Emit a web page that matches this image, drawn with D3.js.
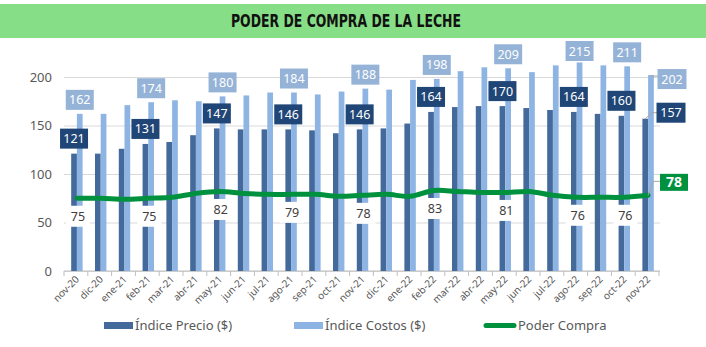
<!DOCTYPE html>
<html>
<head>
<meta charset="utf-8">
<script src="https://cdn.jsdelivr.net/npm/d3@7"></script>
<style>
  body { margin: 0; background: #fff; }
  svg { display: block; font-family: "Noto Sans", sans-serif; }
</style>
</head>
<body>
<svg id="chart" width="706" height="347"></svg>
<script>
// chart data
const months = ["nov-20","dic-20","ene-21","feb-21","mar-21","abr-21","may-21","jun-21","jul-21","ago-21","sep-21","oct-21","nov-21","dic-21","ene-22","feb-22","mar-22","abr-22","may-22","jun-22","jul-22","ago-22","sep-22","oct-22","nov-22"];
const precio = [121,121,126,131,133,140,147,146,146,146,145,142,146,147,152,164,169,170,170,168,166,164,162,160,157];
const costos = [162,162,171,174,176,175,180,181,184,184,182,185,188,187,197,198,206,210,209,205,212,215,212,211,202];
const poder  = [75,75,74,75,76,80,82,80,79,79,79,77,78,79,77,83,82,81,81,82,78,76,76,76,78];
const labelled = [0,3,6,9,12,15,18,21,23]; // months with value labels (last month handled apart)
const yTicks = [0,50,100,150,200];
const seriesNames = ["Índice Precio ($)","Índice Costos ($)","Poder Compra"];

const DARK = "#44699b", LIGHT = "#8eb4e3", GREEN = "#00913f";
const DARK_BOX = "#1f4676", LIGHT_BOX = "#95b3d7";
const LEFT = 64, RIGHT = 659, TOP = 77, BOTTOM = 271;

const svg = d3.select("#chart");

// title band
svg.append("rect").attr("x", 0).attr("y", 4).attr("width", 706).attr("height", 34).attr("fill", "#86de86");
svg.append("text")
  .attr("x", 346).attr("y", 27)
  .attr("text-anchor", "middle")
  .attr("textLength", 230).attr("lengthAdjust", "spacingAndGlyphs")
  .style("font-family", "'DejaVu Sans Condensed', 'DejaVu Sans', sans-serif")
  .style("font-weight", "bold").style("font-size", "18px")
  .attr("fill", "#111")
  .text("PODER DE COMPRA DE LA LECHE");

const x = d3.scaleBand().domain(months).range([LEFT, RIGHT]);
const y = d3.scaleLinear().domain([0, 200]).range([BOTTOM, TOP]);
const bw = x.bandwidth() * 0.24;
const cx = i => x(months[i]) + x.bandwidth() / 2 + 1;

// y axis with gridlines
const yAxis = d3.axisLeft(y).tickValues(yTicks).tickSize(-(RIGHT - LEFT + 1)).tickPadding(12);
const gy = svg.append("g").attr("transform", `translate(${LEFT},0)`).call(yAxis);
gy.select(".domain").remove();
gy.selectAll(".tick line").attr("stroke", "#d9d9d9");
gy.selectAll(".tick text").attr("fill", "#595959").style("font-size", "13px").style("font-family", "'Noto Sans', sans-serif");

// x axis baseline, category boundary ticks and rotated labels
svg.append("line").attr("x1", LEFT).attr("x2", RIGHT + 1).attr("y1", BOTTOM).attr("y2", BOTTOM).attr("stroke", "#bfbfbf");
svg.append("g").selectAll("line")
  .data(months.concat(["end"]))
  .join("line")
  .attr("x1", (d, i) => LEFT + i * x.step()).attr("x2", (d, i) => LEFT + i * x.step())
  .attr("y1", BOTTOM).attr("y2", BOTTOM + 5)
  .attr("stroke", "#bfbfbf");
svg.append("g").selectAll("text")
  .data(months)
  .join("text")
  .attr("transform", (d, i) => `translate(${cx(i) + 3},${BOTTOM + 9}) rotate(-45)`)
  .attr("text-anchor", "end")
  .attr("fill", "#595959")
  .style("font-size", "10px")
  .text(d => d);

// bars
svg.append("g").selectAll("rect")
  .data(precio)
  .join("rect")
  .attr("x", (d, i) => cx(i) - bw).attr("width", bw)
  .attr("y", d => y(d)).attr("height", d => BOTTOM - y(d))
  .attr("fill", DARK);
svg.append("g").selectAll("rect")
  .data(costos)
  .join("rect")
  .attr("x", (d, i) => cx(i)).attr("width", bw)
  .attr("y", d => y(d)).attr("height", d => BOTTOM - y(d))
  .attr("fill", LIGHT);

// poder de compra line
const line = d3.line()
  .x((d, i) => cx(i))
  .y(d => y(d))
  .curve(d3.curveCatmullRom.alpha(0.5));
svg.append("path")
  .datum(poder)
  .attr("d", line)
  .attr("fill", "none").attr("stroke", GREEN)
  .attr("stroke-width", 5).attr("stroke-linecap", "round");

// label helper
function boxLabel(g, xc, yc, w, h, fill, color, text, bold) {
  g.append("rect").attr("x", xc - w / 2).attr("y", yc - h / 2).attr("width", w).attr("height", h).attr("fill", fill);
  g.append("text").attr("x", xc).attr("y", yc).attr("dy", "0.36em")
    .attr("text-anchor", "middle").attr("fill", color)
    .style("font-size", bold ? "14px" : "12.5px").style("font-weight", bold ? "bold" : "normal")
    .text(text);
}

const labels = svg.append("g");
labelled.forEach(i => {
  // poder label below the line
  boxLabel(labels, cx(i) + 1, y(poder[i]) + 18, 24, 21, "#fff", "#404040", poder[i]);
  // precio label above dark bar
  boxLabel(labels, cx(i) - bw / 2, y(precio[i]) - 15, 28, 20, DARK_BOX, "#fff", precio[i]);
  // costos label above light bar
  const top = Math.max(y(costos[i]) - 24, 41);
  boxLabel(labels, cx(i) + bw / 2, top + 10, 28, 20, LIGHT_BOX, "#fff", costos[i]);
});

// last month labels to the right with leader lines
const last = months.length - 1;
const lx = cx(last);
const leader = (pts) => labels.append("polyline").attr("points", pts.map(p => p.join(",")).join(" "))
  .attr("fill", "none").attr("stroke", "#a6a6a6").attr("stroke-width", 1);
leader([[lx + bw / 2, y(costos[last]) + 1], [lx + 10, y(costos[last]) + 1], [658, y(costos[last]) + 1]]);
leader([[lx - bw / 2, y(precio[last])], [lx + 4, y(precio[last]) - 6], [658, y(precio[last]) - 6]]);
leader([[lx, y(poder[last])], [lx + 5, y(poder[last]) - 14], [660, y(poder[last]) - 14]]);
boxLabel(labels, 672, y(costos[last]) + 4, 29, 20, LIGHT_BOX, "#fff", costos[last]);
boxLabel(labels, 671, y(precio[last]) - 6, 29, 20, DARK_BOX, "#fff", precio[last]);
boxLabel(labels, 674, y(poder[last]) - 13, 28, 17, GREEN, "#fff", poder[last], true);

// legend
const legend = svg.append("g").style("font-size", "13px").attr("fill", "#595959");
legend.append("rect").attr("x", 104).attr("y", 322).attr("width", 29).attr("height", 7).attr("fill", DARK);
legend.append("text").attr("x", 135).attr("y", 330).text(seriesNames[0]);
legend.append("rect").attr("x", 294).attr("y", 322).attr("width", 29).attr("height", 7).attr("fill", LIGHT);
legend.append("text").attr("x", 325).attr("y", 330).text(seriesNames[1]);
legend.append("line").attr("x1", 486).attr("x2", 514).attr("y1", 325.5).attr("y2", 325.5)
  .attr("stroke", GREEN).attr("stroke-width", 5).attr("stroke-linecap", "round");
legend.append("text").attr("x", 518).attr("y", 330).text(seriesNames[2]);
</script>
</body>
</html>
